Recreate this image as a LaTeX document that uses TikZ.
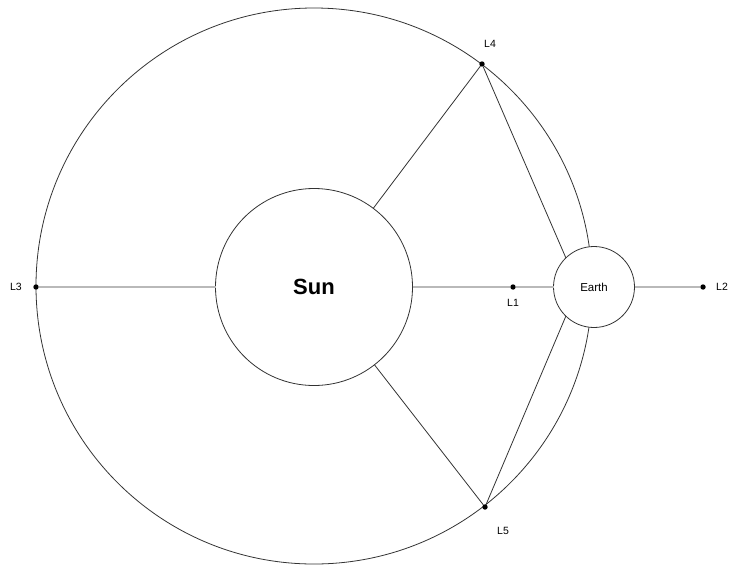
\documentclass[tikz,border=0pt]{standalone}
\usepackage{fontspec}
\setmainfont{Liberation Sans}
\usetikzlibrary{positioning}

\begin{document}
\begin{tikzpicture}[
    x=1pt, y=-1pt,
    body/.style={draw=black!80, circle, fill=white, inner sep=0pt, outer sep=0pt, line width=0.8pt},
    lpt/.style={circle, fill=black, inner sep=0pt, outer sep=0pt, minimum size=5.4pt},
    lbl/.style={font=\fontsize{10.5}{12}\selectfont, inner sep=0pt},
    link/.style={draw=gray!55, line width=1.6pt},
    spoke/.style={draw=black!80, line width=0.8pt}
]
\useasboundingbox (0,0) rectangle (730,568);
\node[body, fill=none, minimum size=556pt] (orbit) at (314,286) {};
\node[body, minimum size=197pt, font=\bfseries\fontsize{22}{26}\selectfont] (sun) at (314,287) {Sun};
\node[body, minimum size=81pt, font=\fontsize{11.5}{14}\selectfont] (earth) at (594,287) {Earth};

\node[lpt] (L1) at (513,287) {};
\node[lpt] (L2) at (703,287) {};
\node[lpt] (L3) at (36,287) {};
\node[lpt] (L4) at (482,64) {};
\node[lpt] (L5) at (485,507) {};

\node[lbl] (L1t) at (513,303) {L1};
\node[lbl] (L2t) at (722,287) {L2};
\node[lbl] (L3t) at (16,287) {L3};
\node[lbl] (L4t) at (490,44) {L4};
\node[lbl] (L5t) at (503,531) {L5};

\draw[link] (L3) -- (sun);
\draw[link] (sun) -- (L1);
\draw[link] (L1) -- (earth);
\draw[link] (earth) -- (L2);
\draw[spoke] (L4) -- (sun);
\draw[spoke] (L4) -- (earth.134);
\draw[spoke] (L5) -- (sun);
\draw[spoke] (L5) -- (earth.226);
\end{tikzpicture}
\end{document}
